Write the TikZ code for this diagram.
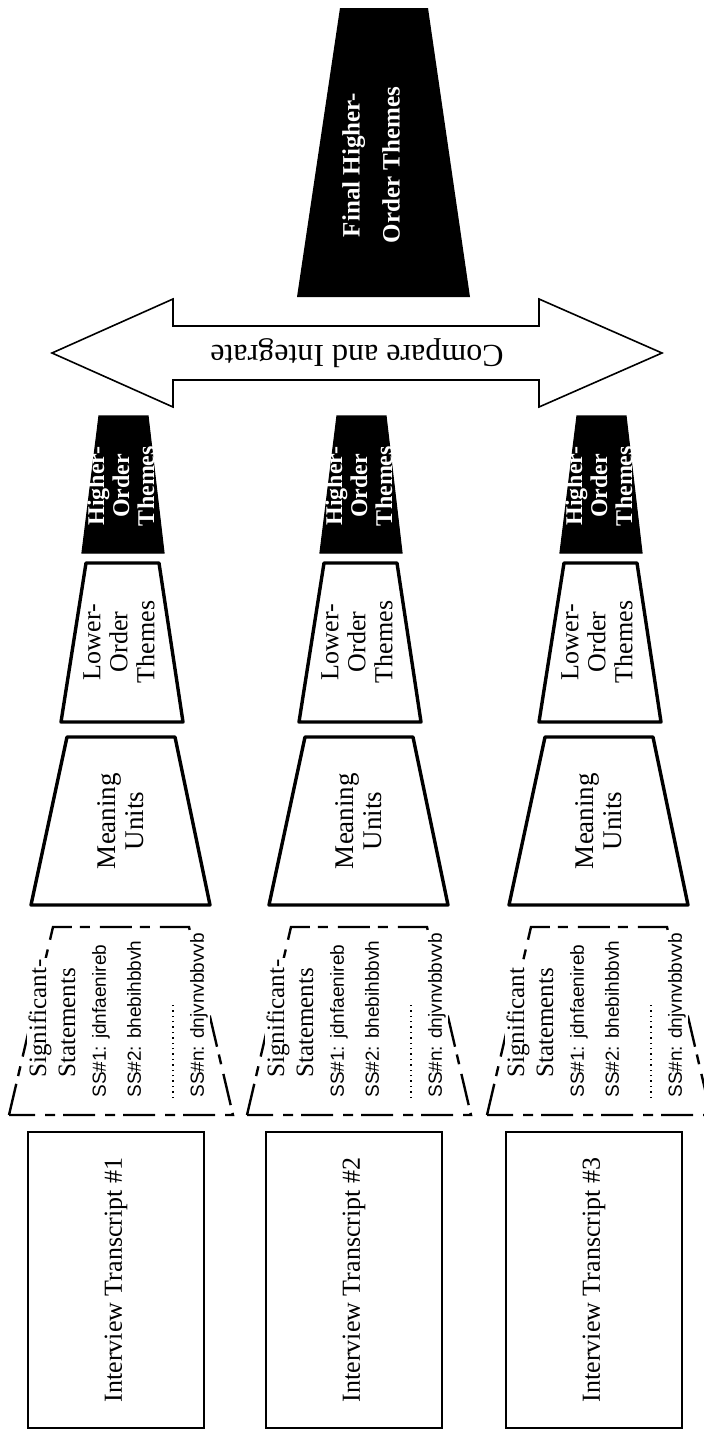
\documentclass[tikz,border=0pt]{standalone}
\usepackage{fontspec}
\setmainfont{Liberation Serif}
\newfontfamily\sslinefont{Liberation Sans}
\usetikzlibrary{calc}

\tikzset{
  funnel/.style={draw=black, line width=1.7pt, line join=round, fill=white},
  darkfunnel/.style={fill=black, draw=black, line width=0.6pt},
  ssoutline/.style={draw=black, line width=1.2pt, dash pattern=on 16pt off 4pt on 5pt off 5pt},
  transcript/.style={draw=black, line width=1pt},
  bigarrow/.style={draw=black, line width=0.8pt, fill=white, line join=miter},
  uptext/.style={rotate=90, align=center, inner sep=0pt},
  sstitle/.style={rotate=90, anchor=west, inner sep=1pt, fill=white, font=\fontsize{12.5}{13}\selectfont},
  ssline/.style={rotate=90, anchor=west, inner sep=1pt, fill=white, font=\sslinefont\fontsize{9.5}{10}\selectfont},
}

\begin{document}
\begin{tikzpicture}[x=0.5pt, y=-0.5pt]
\useasboundingbox (0,0) rectangle (704,1431);

% compare and integrate
\draw[bigarrow] (52,353) -- (173,299) -- (173,326) -- (539,326) -- (539,299) -- (662,353)
  -- (539,407) -- (539,380) -- (173,380) -- (173,407) -- cycle;
\node[rotate=180, inner sep=0pt, font=\fontsize{16}{16}\selectfont] (compare) at (357,353) {Compare and Integrate};

% final themes
\fill[black] (340,8) -- (428,8) -- (470,297) -- (297,297) -- cycle;
\node[uptext, text=white, font=\bfseries\fontsize{12.5}{20}\selectfont] (final) at (371,165) {Final Higher-\\Order Themes};

\foreach \x/\n/\sig in {0/1/Significant-, 238/2/Significant-, 478/3/Significant} {
 \begin{scope}[shift={(\x,0)}]
 % transcript
 \draw[transcript] (28,1132) rectangle (204,1428);
 \node[uptext, font=\fontsize{13}{13}\selectfont] (box\n) at (116,1280) {Interview Transcript \#\n};
 % significant statements
 \draw[ssoutline] (9,1115) -- (53,927) -- (189,927) -- (233,1115) -- cycle;
 \node[sstitle] (sig\n) at (40,1080) {\sig};
 \node[sstitle] (stm\n) at (67,1080) {Statements};
 \node[ssline] (ssa\n) at (101,1100) {SS\#1: jdnfaenireb};
 \node[ssline] (ssb\n) at (134,1100) {SS\#2: bhebihbbvh};
 \draw[dotted, line width=0.7pt] (173,1098) -- (173,1005);
 \node[ssline] (ssn\n) at (199,1100) {SS\#n: dnjvnvbbvvb};
 % meaning units
 \draw[funnel] (67,737) -- (175,737) -- (210,905) -- (31,905) -- cycle;
 \node[uptext, font=\fontsize{13.5}{14}\selectfont] (mu\n) at (121,821) {Meaning\\Units};
 % lower-order themes
 \draw[funnel] (86,563) -- (159,563) -- (183,722) -- (61,722) -- cycle;
 \node[uptext, font=\fontsize{13}{13.5}\selectfont] (lo\n) at (119,642) {Lower-\\Order\\Themes};
 % higher-order themes
 \filldraw[darkfunnel] (99,416) -- (148,416) -- (164,553) -- (82,553) -- cycle;
 \node[uptext, text=white, font=\bfseries\fontsize{12}{12.5}\selectfont] (ho\n) at (121,486) {Higher-\\Order\\Themes};
 \end{scope}
}
\end{tikzpicture}
\end{document}
